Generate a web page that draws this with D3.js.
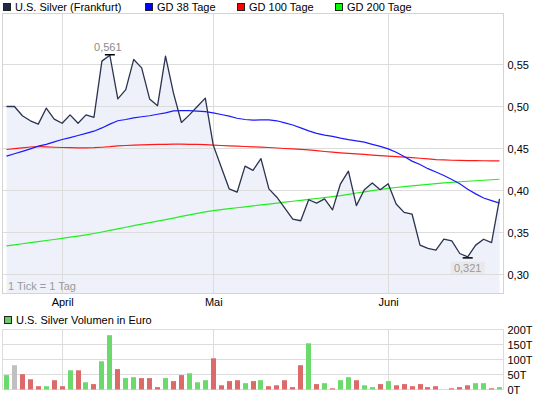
<!DOCTYPE html>
<html>
<head>
<meta charset="utf-8">
<script src="https://cdn.jsdelivr.net/npm/d3@7"></script>
<style>
  body { margin: 0; background: #fff; }
  svg { display: block; font-family: "Liberation Sans", Arial, sans-serif; font-size: 11px; }
</style>
</head>
<body>
<svg id="chart" width="545" height="398"></svg>
<script>
// trading days 23.03.2011 - 20.06.2011, one value per day (index = x)
const price = [
  0.500, 0.500, 0.489, 0.483, 0.479, 0.498, 0.485, 0.480, 0.490, 0.480,
  0.490, 0.487, 0.554, 0.561, 0.509, 0.520, 0.556, 0.546, 0.509, 0.501,
  0.560, 0.516, 0.481, 0.490, 0.500, 0.510, 0.454, 0.428, 0.402, 0.398,
  0.429, 0.424, 0.438, 0.402, 0.392, 0.379, 0.366, 0.364, 0.389, 0.385,
  0.390, 0.377, 0.408, 0.423, 0.382, 0.401, 0.409, 0.401, 0.408, 0.384,
  0.374, 0.372, 0.335, 0.331, 0.329, 0.342, 0.340, 0.325, 0.321, 0.335,
  0.342, 0.338, 0.390
];
const gd38 = [
  0.4410, 0.4438, 0.4466, 0.4496, 0.4528, 0.4550, 0.4578, 0.4607, 0.4630, 0.4655,
  0.4680, 0.4706, 0.4745, 0.4790, 0.4830, 0.4845, 0.4865, 0.4878, 0.4890, 0.4908,
  0.4925, 0.4948, 0.4952, 0.4950, 0.4945, 0.4940, 0.4925, 0.4905, 0.4885, 0.4860,
  0.4845, 0.4838, 0.4840, 0.4840, 0.4830, 0.4806, 0.4780, 0.4745, 0.4710, 0.4680,
  0.4660, 0.4645, 0.4623, 0.4605, 0.4590, 0.4575, 0.4550, 0.4525, 0.4496, 0.4456,
  0.4405, 0.4350, 0.4310, 0.4260, 0.4220, 0.4179, 0.4130, 0.4080, 0.4015, 0.3960,
  0.3910, 0.3880, 0.3850
];
const gd100 = [
  0.4488, 0.4498, 0.4508, 0.4518, 0.4524, 0.4520, 0.4515, 0.4512, 0.4510, 0.4508,
  0.4508, 0.4510, 0.4515, 0.4522, 0.4532, 0.4536, 0.4540, 0.4544, 0.4546, 0.4548,
  0.4550, 0.4552, 0.4552, 0.4550, 0.4548, 0.4545, 0.4540, 0.4536, 0.4532, 0.4528,
  0.4524, 0.4520, 0.4516, 0.4512, 0.4506, 0.4500, 0.4495, 0.4490, 0.4484, 0.4474,
  0.4464, 0.4456, 0.4448, 0.4442, 0.4436, 0.4430, 0.4422, 0.4415, 0.4409, 0.4403,
  0.4397, 0.4391, 0.4384, 0.4376, 0.4368, 0.4364, 0.4360, 0.4358, 0.4356, 0.4355,
  0.4354, 0.4353, 0.4353
];
const gd200 = [
  0.3340, 0.3353, 0.3366, 0.3379, 0.3392, 0.3405, 0.3417, 0.3430, 0.3444, 0.3458,
  0.3472, 0.3488, 0.3506, 0.3525, 0.3544, 0.3563, 0.3582, 0.3600, 0.3618, 0.3636,
  0.3654, 0.3672, 0.3692, 0.3710, 0.3728, 0.3745, 0.3760, 0.3772, 0.3784, 0.3795,
  0.3806, 0.3817, 0.3828, 0.3839, 0.3850, 0.3861, 0.3872, 0.3883, 0.3894, 0.3905,
  0.3916, 0.3927, 0.3938, 0.3955, 0.3970, 0.3984, 0.3998, 0.4012, 0.4026, 0.4036,
  0.4046, 0.4056, 0.4065, 0.4074, 0.4083, 0.4090, 0.4097, 0.4104, 0.4110, 0.4116,
  0.4122, 0.4128, 0.4134
];
// volume in thousand euro
const volume = [
  48, 81, 51, 34, 11, 11, 31, 11, 64, 64,
  24, 18, 94, 181, 68, 38, 41, 38, 38, 8,
  38, 28, 48, 54, 24, 31, 104, 14, 28, 31,
  21, 28, 31, 11, 14, 31, 8, 81, 154, 18,
  21, 4, 31, 41, 31, 14, 8, 18, 28, 14,
  18, 11, 18, 8, 11, 0, 4, 8, 14, 21,
  21, 4, 8
];
const monthIdx = [7, 26, 48];
const monthLabels = ['April', 'Mai', 'Juni'];
const priceTicks = [0.30, 0.35, 0.40, 0.45, 0.50, 0.55];
const volTicks = [0, 50, 100, 150, 200];
const legendItems = ['U.S. Silver (Frankfurt)', 'GD 38 Tage', 'GD 100 Tage', 'GD 200 Tage'];
const legendColors = ['#1f2a4a', '#0000ff', '#ff0000', '#00ff00'];
const legendX = [3, 145, 237, 335];

const svg = d3.select('#chart');
const de = d3.formatLocale({decimal: ',', thousands: '.', grouping: [3], currency: ['', ' €']});
const fmt2 = de.format('.2f'), fmt3 = de.format('.3f');

const left = 2.5, right = 503.5;
const top1 = 13.5, bottom1 = 293.5;
const top2 = 329.5, bottom2 = 389.5;
const gridColor = '#dcdcdc';

let xScale = d3.scaleLinear().domain([-0.5, price.length - 0.5]).range([left, right]);
let yScale = d3.scaleLinear().domain([0.2774, 0.6107]).range([bottom1, top1]);
let yVol   = d3.scaleLinear().domain([0, 200]).range([bottom2, top2]);

const crisp = v => Math.round(v - 0.5) + 0.5;

// legend top
legendItems.forEach(function(d, i) {
  svg.append('rect')
    .attr('x', legendX[i] + 0.5).attr('y', 3.5)
    .attr('width', 7).attr('height', 7)
    .attr('fill', legendColors[i]).attr('stroke', '#222');
  svg.append('text')
    .attr('x', legendX[i] + 12).attr('y', 11)
    .text(d);
});

// price panel
let main = svg.append('g');

let area = d3.area()
  .x((d, i) => xScale(i))
  .y0(bottom1)
  .y1(d => yScale(d));

main.append('path')
  .datum(price)
  .attr('d', area)
  .attr('fill', '#eef1f9');

main.selectAll('.hgrid')
  .data(priceTicks)
  .enter().append('line')
  .attr('x1', left).attr('x2', right)
  .attr('y1', d => crisp(yScale(d))).attr('y2', d => crisp(yScale(d)))
  .attr('stroke', gridColor);

main.selectAll('.vgrid')
  .data(monthIdx)
  .enter().append('line')
  .attr('x1', d => crisp(xScale(d))).attr('x2', d => crisp(xScale(d)))
  .attr('y1', top1).attr('y2', bottom1)
  .attr('stroke', gridColor);

main.append('rect')
  .attr('x', left).attr('y', top1)
  .attr('width', right - left).attr('height', bottom1 - top1)
  .attr('fill', 'none').attr('stroke', '#d4d4d4');

function lineOf() {
  return d3.line().x((d, i) => xScale(i)).y(d => yScale(d));
}
[[gd200, '#22ee22'], [gd100, '#ff1a1a'], [gd38, '#1a1aff']].forEach(function(s) {
  main.append('path')
    .datum(s[0])
    .attr('d', lineOf())
    .attr('fill', 'none')
    .attr('stroke', s[1])
    .attr('stroke-width', 1.2);
});

main.append('path')
  .datum(price)
  .attr('d', lineOf())
  .attr('fill', 'none')
  .attr('stroke', '#2a3350')
  .attr('stroke-width', 1.3)
  .attr('stroke-linejoin', 'round');

// high / low markers
let hi = d3.maxIndex(price), lo = d3.minIndex(price);
main.append('line')
  .attr('x1', xScale(hi) - 5).attr('x2', xScale(hi) + 5)
  .attr('y1', yScale(price[hi]) - 0.5).attr('y2', yScale(price[hi]) - 0.5)
  .attr('stroke', '#000').attr('stroke-width', 1.5);
main.append('text')
  .attr('x', xScale(hi) - 2).attr('y', yScale(price[hi]) - 4.5)
  .attr('text-anchor', 'middle')
  .attr('fill', '#8a8a8a')
  .text(fmt3(price[hi]));

main.append('line')
  .attr('x1', xScale(lo) - 5).attr('x2', xScale(lo) + 5)
  .attr('y1', yScale(price[lo]) + 1).attr('y2', yScale(price[lo]) + 1)
  .attr('stroke', '#000').attr('stroke-width', 1.5);
main.append('rect')
  .attr('x', xScale(lo) - 17).attr('y', yScale(price[lo]) + 5)
  .attr('width', 34).attr('height', 12)
  .attr('fill', '#e9e9ec');
main.append('text')
  .attr('x', xScale(lo)).attr('y', yScale(price[lo]) + 15)
  .attr('text-anchor', 'middle')
  .attr('fill', '#999')
  .text(fmt3(price[lo]));

main.append('text')
  .attr('x', 8).attr('y', 290)
  .attr('fill', '#9a9a9a')
  .text('1 Tick = 1 Tag');

// axes of the price panel
let yAxis = d3.axisRight(yScale).tickValues(priceTicks).tickFormat(fmt2).tickSize(0).tickPadding(4);
let yg = svg.append('g').attr('transform', `translate(${right},0)`).call(yAxis);

let xAxis = d3.axisBottom(xScale).tickValues(monthIdx).tickFormat((d, i) => monthLabels[i]).tickSize(0).tickPadding(5);
let xg = svg.append('g').attr('transform', `translate(0,${bottom1})`).call(xAxis);

// volume panel
svg.append('rect')
  .attr('x', 4.5).attr('y', 316.5)
  .attr('width', 7).attr('height', 7)
  .attr('fill', '#66cc66').attr('stroke', '#222');
svg.append('text')
  .attr('x', 16).attr('y', 324)
  .text('U.S. Silver Volumen in Euro');

let vol = svg.append('g');

vol.selectAll('.vh')
  .data(volTicks)
  .enter().append('line')
  .attr('x1', left).attr('x2', right)
  .attr('y1', d => crisp(yVol(d))).attr('y2', d => crisp(yVol(d)))
  .attr('stroke', gridColor);

vol.selectAll('.vv')
  .data([-0.5].concat(monthIdx, [price.length - 0.5]))
  .enter().append('line')
  .attr('x1', d => crisp(xScale(d))).attr('x2', d => crisp(xScale(d)))
  .attr('y1', top2).attr('y2', bottom2)
  .attr('stroke', gridColor);

vol.selectAll('.bar')
  .data(volume)
  .enter().append('rect')
  .attr('x', (d, i) => Math.round(xScale(i) - 2.5))
  .attr('y', d => yVol(d))
  .attr('width', 5)
  .attr('height', d => bottom2 - yVol(d))
  .attr('fill', function(d, i) {
    if (i === 0 || price[i] > price[i - 1]) return '#6cd96c';
    if (price[i] < price[i - 1]) return '#dc6a6a';
    return '#c0c0c0';
  });

let vAxis = d3.axisRight(yVol).tickValues(volTicks).tickFormat(d => d + 'T').tickSize(0).tickPadding(4);
let vg = svg.append('g').attr('transform', `translate(${right},0)`).call(vAxis);

[yg, xg, vg].forEach(function(g) {
  g.select('.domain').remove();
  g.selectAll('text')
    .attr('font-family', '"Liberation Sans", Arial, sans-serif')
    .attr('font-size', 11)
    .attr('fill', '#000');
});
</script>
</body>
</html>
